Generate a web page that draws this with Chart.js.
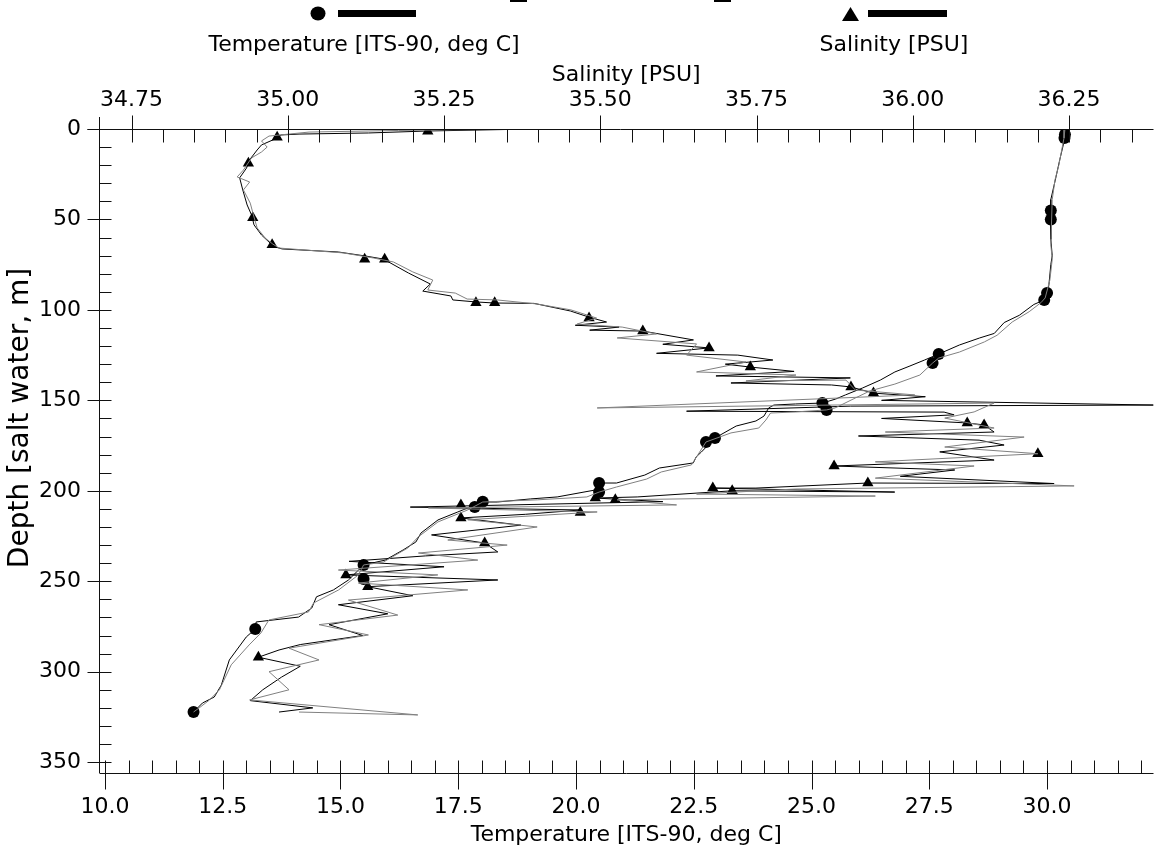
<!DOCTYPE html>
<html>
<head>
<meta charset="utf-8">
<script src="https://cdn.jsdelivr.net/npm/chart.js@4.4.1/dist/chart.umd.min.js"></script>
<style>
  html, body { margin: 0; padding: 0; background: #fff; }
</style>
</head>
<body>
<canvas id="myChart" width="1160" height="853"></canvas>
<script>
// tick labels
const depthTicks = [0, 50, 100, 150, 200, 250, 300, 350];
const tempTicks = [10, 12.5, 15, 17.5, 20, 22.5, 25, 27.5, 30];
const salTicks = [34.75, 35.0, 35.25, 35.5, 35.75, 36.0, 36.25];

// temperature, cast 1 (black line)
const temp1Depth = [0, 3.3, 6, 17, 26.5, 31, 39, 61, 70, 75, 86, 92, 94.5, 97, 103, 107, 113, 115.5, 119.4, 124.4, 127.7, 131, 134.3, 138.8, 143.2, 147, 149.3, 151.5, 152, 152.6, 154.2, 158.7, 161.4, 164.2, 170.8, 178.6, 181.3, 184.6, 187.4, 191.3, 195.7, 195.7, 199.6, 203.4, 204.5, 206.2, 206.2, 211.7, 216.1, 223.3, 228.3, 232.7, 238.3, 241, 249.3, 254.8, 258.6, 264.8, 269.8, 272.5, 276.4, 280.8, 293.5, 307.4, 314, 317.3, 322.3];
const temp1Value = [30.38, 30.38, 30.36, 30.27, 30.19, 30.15, 30.08, 30.08, 30.11, 30.08, 30.04, 30.0, 29.94, 29.72, 29.41, 29.09, 28.88, 28.57, 28.14, 27.7, 27.4, 27.09, 26.77, 26.46, 26.08, 25.72, 25.51, 25.23, 24.66, 24.2, 24.09, 23.99, 23.82, 23.4, 22.95, 22.66, 22.55, 22.49, 21.77, 21.46, 20.86, 20.49, 20.4, 19.6, 19.03, 18.33, 18.02, 17.49, 17.07, 16.71, 16.6, 16.33, 15.95, 15.49, 15.17, 14.85, 14.49, 14.39, 14.11, 13.21, 13.19, 13.0, 12.64, 12.47, 12.32, 12.07, 11.88];

// temperature, cast 2 (grey line)
const temp2Depth = [0, 5, 20, 28, 39, 64, 72, 83.5, 93.4, 96, 101, 106.7, 114, 117.7, 123.3, 126.6, 129.4, 136, 141, 144.8, 148.7, 154.2, 155.3, 156.4, 157, 160.9, 165.3, 168, 173, 185.7, 189.6, 193.5, 197.9, 200.7, 203.4, 205, 206.2, 210.6, 217.2, 225.5, 231.6, 239.4, 241, 246.5, 254.8, 262, 267, 271.4, 278.6, 285.2, 296.2, 310, 315.6, 320, 322.3];
const temp2Value = [30.38, 30.36, 30.25, 30.17, 30.11, 30.08, 30.11, 30.06, 29.96, 29.87, 29.62, 29.26, 28.94, 28.67, 28.14, 27.7, 27.57, 27.3, 26.77, 26.24, 25.93, 25.5, 25.32, 24.66, 24.13, 24.03, 23.88, 23.29, 22.76, 22.45, 21.81, 21.5, 20.86, 20.49, 20.23, 19.18, 18.02, 17.7, 17.07, 16.65, 16.43, 15.91, 15.49, 15.38, 14.96, 14.43, 14.32, 13.48, 13.31, 13.06, 12.68, 12.43, 12.22, 12.0, 11.88];

// salinity, cast 1 (black line)
const sal1Depth = [0, 1.1, 2.2, 2.8, 3.3, 5, 8.8, 11.6, 17, 21.6, 27, 33.7, 42, 47.5, 53, 58.6, 62.5, 65, 66.3, 68, 70.2, 71.9, 79.6, 85.7, 89.6, 92.3, 94.5, 95.6, 96.2, 96.4, 100.6, 104, 106.7, 108.5, 109.5, 111.2, 111.7, 116.6, 119, 121, 124, 125, 127.7, 130, 131.6, 134, 136.5, 137.6, 140.4, 141.5, 142.6, 146, 148, 150, 152.6, 153.2, 156, 156.5, 158, 160, 162.5, 163.6, 167.5, 169.7, 172, 174.7, 178.5, 183, 186.3, 188.5, 192, 196, 195.7, 198.5, 198.5, 200.7, 200, 203.4, 204, 206, 209, 210.6, 213, 215, 219, 224.4, 228.9, 233.8, 236, 239, 242, 246.5, 249.3, 253, 258, 263, 268, 274, 280, 285, 288, 292, 297, 303, 310, 316, 320, 322.3];
const sal1Value = [35.391, 35.224, 35.129, 35.018, 34.989, 34.983, 34.958, 34.951, 34.939, 34.934, 34.923, 34.928, 34.935, 34.942, 34.946, 34.958, 34.970, 34.978, 34.991, 35.081, 35.124, 35.153, 35.193, 35.228, 35.216, 35.261, 35.264, 35.301, 35.331, 35.394, 35.452, 35.482, 35.510, 35.46, 35.53, 35.483, 35.568, 35.649, 35.60, 35.674, 35.59, 35.72, 35.776, 35.70, 35.740, 35.81, 35.685, 35.900, 35.709, 35.87, 35.901, 35.937, 36.020, 35.95, 36.385, 35.90, 35.638, 36.05, 36.066, 35.95, 36.087, 36.114, 36.130, 35.913, 36.106, 36.146, 36.043, 36.130, 35.874, 36.067, 35.98, 36.226, 35.928, 35.749, 35.680, 35.971, 35.711, 35.559, 35.492, 35.60, 35.196, 35.468, 35.38, 35.277, 35.373, 35.230, 35.315, 35.336, 35.22, 35.098, 35.25, 35.093, 35.336, 35.128, 35.20, 35.081, 35.16, 35.066, 35.12, 35.02, 34.986, 34.953, 35.02, 34.99, 34.96, 34.94, 35.04, 34.986];

// salinity, cast 2 (grey line)
const sal2Depth = [0, 0.8, 1.7, 3.9, 6.6, 10, 12.7, 16, 22.7, 26.5, 29.3, 33.7, 41, 47.5, 54.7, 60.3, 63.6, 65.8, 68.5, 71.3, 73.5, 79, 83.5, 89, 90.7, 94, 94.5, 96.7, 100, 104.5, 107.8, 109.5, 113.3, 115.5, 118.8, 125, 128.8, 134.3, 136, 139.3, 138.8, 144.3, 147, 154.2, 151.5, 156.4, 159.8, 165.3, 167.5, 170.3, 175.8, 179.5, 184, 186.3, 193, 197.3, 199, 201.8, 202.9, 205, 207.8, 209.5, 211.7, 216, 220, 227.2, 230, 234.4, 238.3, 243.8, 246.5, 251, 254.8, 260.4, 268.7, 274, 279.7, 287, 293.5, 300, 310, 315.6, 323.9, 322.3];
const sal2Value = [35.368, 35.177, 35.034, 34.970, 34.958, 34.967, 34.958, 34.942, 34.929, 34.919, 34.939, 34.929, 34.94, 34.945, 34.951, 34.964, 34.976, 34.986, 35.089, 35.137, 35.169, 35.20, 35.232, 35.224, 35.268, 35.287, 35.335, 35.398, 35.453, 35.494, 35.463, 35.535, 35.59, 35.527, 35.654, 35.638, 35.733, 35.654, 35.813, 35.733, 35.893, 35.908, 36.003, 35.495, 36.130, 36.098, 36.051, 36.130, 35.956, 36.178, 36.051, 36.20, 35.940, 36.098, 35.940, 36.258, 35.813, 35.654, 35.940, 35.527, 35.622, 35.225, 35.495, 35.288, 35.399, 35.256, 35.351, 35.209, 35.304, 35.081, 35.240, 35.113, 35.288, 35.097, 35.176, 35.05, 35.129, 35.002, 35.05, 34.97, 35.002, 34.939, 35.208, 35.018];

// marker symbols on the profiles
const tempMarkDepth = [3, 5, 45, 50, 90.7, 94.5, 124.4, 129.4, 151.5, 155.3, 170.8, 173, 195.7, 200.6, 206, 209, 241, 248.8, 276.4, 322.3];
const tempMarkValue = [30.38, 30.37, 30.08, 30.08, 30.0, 29.94, 27.7, 27.57, 25.23, 25.32, 22.95, 22.76, 20.49, 20.49, 18.02, 17.85, 15.49, 15.49, 13.19, 11.88];
const salMarkDepth = [4.5, 1.2, 19, 49, 64, 72, 72, 96, 96, 104.5, 111.6, 121, 131.6, 142.6, 146, 162.5, 163.6, 179.5, 186.3, 195.7, 198.5, 200, 204, 205, 207.8, 212, 215, 228.9, 246.6, 253, 292];
const salMarkValue = [34.983, 35.224, 34.937, 34.944, 34.975, 35.123, 35.155, 35.301, 35.331, 35.482, 35.568, 35.674, 35.740, 35.901, 35.937, 36.087, 36.114, 36.20, 35.874, 35.928, 35.680, 35.711, 35.492, 35.524, 35.277, 35.468, 35.277, 35.315, 35.093, 35.128, 34.953];

const FONT = "'DejaVu Sans', sans-serif";
const tickFont = { family: FONT, size: 22 };

function pts(depths, values) {
  return depths.map((d, i) => ({ x: values[i], y: d }));
}

const axisMarks = {
  id: 'axisMarks',
  afterDraw(chart) {
    const ctx = chart.ctx;
    const a = chart.chartArea;
    const sy = chart.scales.y, sT = chart.scales.xT, sS = chart.scales.xS;
    ctx.save();
    ctx.strokeStyle = '#111';
    ctx.lineWidth = 1;
    ctx.beginPath();
    const L = Math.round(a.left) + 0.5, T = Math.round(a.top) + 0.5, B = Math.round(a.bottom) + 0.5;
    // axis lines
    ctx.moveTo(L, a.top - 12); ctx.lineTo(L, a.bottom);
    ctx.moveTo(L - 12, T); ctx.lineTo(a.right, T);
    ctx.moveTo(L, B); ctx.lineTo(a.right, B);
    // depth ticks
    for (let v = 0; v <= 350; v += 10) {
      const y = Math.round(sy.getPixelForValue(v)) + 0.5;
      const major = v % 50 === 0;
      ctx.moveTo(major ? L - 12 : L, y); ctx.lineTo(L + 12, y);
    }
    // salinity ticks (top)
    for (let i = 0; i * 0.05 + 34.75 <= sS.max; i++) {
      const v = 34.75 + i * 0.05;
      const x = Math.round(sS.getPixelForValue(v)) + 0.5;
      const major = i % 5 === 0;
      ctx.moveTo(x, major ? T - 14 : T); ctx.lineTo(x, T + 13);
    }
    // temperature ticks (bottom)
    for (let i = 0; i * 0.5 + 10 <= sT.max; i++) {
      const v = 10 + i * 0.5;
      const x = Math.round(sT.getPixelForValue(v)) + 0.5;
      const major = i % 5 === 0;
      ctx.moveTo(x, B - 13); ctx.lineTo(x, major ? B + 16 : B);
    }
    ctx.stroke();
    // depth axis title, sits a bit above the middle of the axis
    ctx.fillStyle = '#000';
    ctx.font = '28px ' + FONT;
    ctx.textAlign = 'center';
    ctx.textBaseline = 'middle';
    ctx.translate(21, 418);
    ctx.rotate(-Math.PI / 2);
    ctx.fillText('Depth [salt water, m]', 0, 0);
    ctx.restore();
  }
};

const topLegend = {
  id: 'topLegend',
  afterDraw(chart) {
    const ctx = chart.ctx;
    ctx.save();
    ctx.fillStyle = '#000';
    // clipped remnants of an upper legend row
    ctx.fillRect(510, 0, 17, 2);
    ctx.fillRect(714, 0, 17, 2);
    // temperature entry
    ctx.beginPath();
    ctx.ellipse(318, 13.5, 7.5, 7, 0, 0, Math.PI * 2);
    ctx.fill();
    ctx.fillRect(338, 10, 78, 7);
    // salinity entry
    ctx.beginPath();
    ctx.moveTo(850.5, 7); ctx.lineTo(859, 21); ctx.lineTo(842, 21); ctx.closePath();
    ctx.fill();
    ctx.fillRect(868, 10, 79, 7);
    ctx.font = '22px ' + FONT;
    ctx.textAlign = 'center';
    ctx.textBaseline = 'middle';
    ctx.fillText('Temperature [ITS-90, deg C]', 364, 45);
    ctx.fillText('Salinity [PSU]', 894, 45);
    ctx.restore();
  }
};

const datasets = [
  { label: 'Temperature 2', data: pts(temp2Depth, temp2Value), xAxisID: 'xT', showLine: true, borderColor: '#808080', borderWidth: 1, pointRadius: 0 },
  { label: 'Salinity 2', data: pts(sal2Depth, sal2Value), xAxisID: 'xS', showLine: true, borderColor: '#808080', borderWidth: 1, pointRadius: 0 },
  { label: 'Temperature 1', data: pts(temp1Depth, temp1Value), xAxisID: 'xT', showLine: true, borderColor: '#000', borderWidth: 1, pointRadius: 0 },
  { label: 'Salinity 1', data: pts(sal1Depth, sal1Value), xAxisID: 'xS', showLine: true, borderColor: '#000', borderWidth: 1, pointRadius: 0 },
  { label: 'Temperature [ITS-90, deg C]', data: pts(tempMarkDepth, tempMarkValue), xAxisID: 'xT', showLine: false, pointStyle: 'circle', pointRadius: 6, backgroundColor: '#000', borderColor: '#000', borderWidth: 0 },
  { label: 'Salinity [PSU]', data: pts(salMarkDepth, salMarkValue), xAxisID: 'xS', showLine: false, pointStyle: 'triangle', pointRadius: 6.5, backgroundColor: '#000', borderColor: '#000', borderWidth: 0 }
];

new Chart(document.getElementById('myChart'), {
  type: 'scatter',
  data: { datasets },
  options: {
    responsive: false,
    animation: false,
    layout: { padding: 0 },
    plugins: { legend: { display: false }, tooltip: { enabled: false } },
    scales: {
      y: {
        type: 'linear', position: 'left', reverse: true, min: 0, max: 356,
        afterFit: s => { s.width = 99; },
        afterBuildTicks: s => { s.ticks = depthTicks.map(v => ({ value: v })); },
        grid: { display: false, drawTicks: false },
        border: { display: false },
        ticks: { padding: 18, color: '#000', font: tickFont, callback: v => String(v) },
        title: { display: false, text: 'Depth [salt water, m]' }
      },
      xT: {
        type: 'linear', position: 'bottom', min: 9.873, max: 32.26,
        afterFit: s => { s.height = 80; },
        afterBuildTicks: s => { s.ticks = tempTicks.map(v => ({ value: v })); },
        grid: { display: false, drawTicks: false },
        border: { display: false },
        ticks: { padding: 21, color: '#000', font: tickFont, maxRotation: 0, autoSkip: false, callback: v => v.toFixed(1) },
        title: { display: true, text: 'Temperature [ITS-90, deg C]', color: '#000', font: tickFont, padding: { top: 0, bottom: 5 } }
      },
      xS: {
        type: 'linear', position: 'top', min: 34.698, max: 36.385,
        afterFit: s => { s.height = 129; },
        afterBuildTicks: s => { s.ticks = salTicks.map(v => ({ value: v })); },
        grid: { display: false, drawTicks: false },
        border: { display: false },
        ticks: { padding: 16, color: '#000', font: tickFont, maxRotation: 0, autoSkip: false, callback: v => v.toFixed(2) },
        title: { display: true, text: 'Salinity [PSU]', color: '#000', font: tickFont, padding: { top: 62, bottom: 0 } }
      }
    }
  },
  plugins: [axisMarks, topLegend]
});
</script>
</body>
</html>
